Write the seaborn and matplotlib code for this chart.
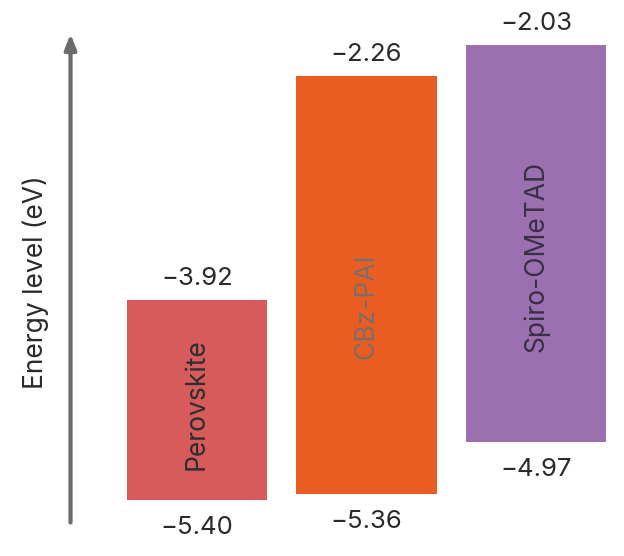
import matplotlib
matplotlib.use('Agg')
import matplotlib.pyplot as plt
import seaborn as sns
import pandas as pd

# energy levels (eV)
materials = ['Perovskite', 'CBz-PAI', 'Spiro-OMeTAD']
upper = [-3.92, -2.26, -2.03]
lower = [-5.40, -5.36, -4.97]
colors = ['#d75b5b', '#e95d23', '#9a70b0']
name_colors = ['#2e2e2e', '#7d6e66', '#3a2f45']

df = pd.DataFrame({'material': materials, 'upper': upper, 'lower': lower})
df['span'] = df['upper'] - df['lower']

sns.set_style('white')
plt.rcParams['font.family'] = ['Inter', 'DejaVu Sans']

fig = plt.figure(figsize=(6.24, 5.56), dpi=100)
ax = fig.add_axes([0, 0, 1, 1])

sns.barplot(data=df, x='material', y='span', hue='material', palette=colors,
            width=0.826, legend=False, ax=ax, saturation=1, linewidth=0)

# float the bars: move each bar to start at its lower level
for patch, lo, hi in zip(ax.patches, df['lower'], df['span']):
    patch.set_y(lo)
    patch.set_height(hi)

ax.set_xlim(-1.162, 2.519)
ax.set_ylim(-5.818, -1.70)
ax.axis('off')

# value labels
for i, row in df.iterrows():
    ax.text(i, row['upper'] + 0.07, f"\u2212{abs(row['upper']):.2f}", ha='center', va='bottom',
            fontsize=18.5, color='#2a2a2a')
    ax.text(i, row['lower'] - 0.12, f"\u2212{abs(row['lower']):.2f}", ha='center', va='top',
            fontsize=18.5, color='#2a2a2a')

# material names inside bars
name_shift = [-0.03, -0.16, -0.10]
for i, row in df.iterrows():
    mid = (row['upper'] + row['lower']) / 2 + name_shift[i]
    ax.text(i, mid, row['material'], rotation=90, ha='center', va='center',
            fontsize=19, color=name_colors[i])

# energy axis arrow
ax.annotate('', xy=(-0.746, -1.95), xytext=(-0.746, -5.57),
            arrowprops=dict(arrowstyle='-|>,head_width=0.35,head_length=0.9',
                            color='#6b6b6b', lw=3, shrinkA=0, shrinkB=0))
fig.text(36 / 624, 1 - 282 / 556, 'Energy level (eV)', rotation=90, ha='center', va='center',
         fontsize=19, color='#2a2a2a')

plt.savefig('out.png', dpi=100)
